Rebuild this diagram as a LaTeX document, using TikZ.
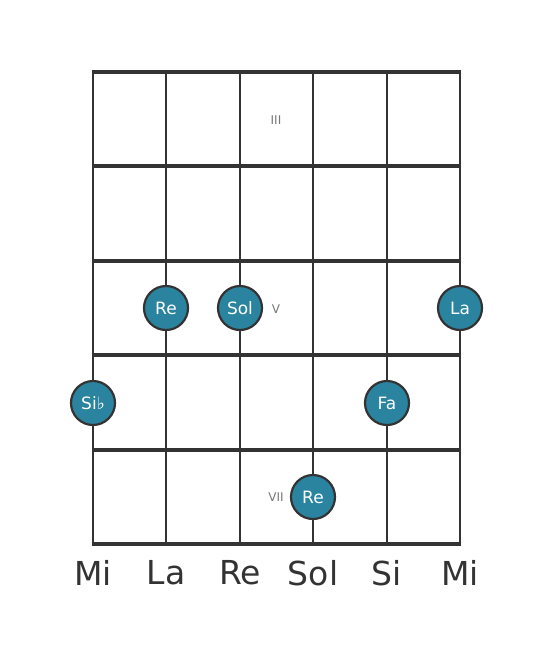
\documentclass[tikz,border=0pt]{standalone}
\usepackage{fontspec}
\setmainfont{DejaVu Sans}
\definecolor{linec}{HTML}{333333}
\definecolor{dotc}{HTML}{2A84A0}
\definecolor{fretc}{HTML}{777777}
\begin{document}
\begin{tikzpicture}[x=1pt,y=-1pt,
  fretline/.style={draw=linec,line width=4.5pt},
  stringline/.style={draw=linec,line width=2.6pt},
  notedot/.style={circle,fill=dotc,draw=linec,line width=2.2pt,minimum size=44pt,inner sep=0pt,text=white,font=\fontsize{17}{19}\selectfont},
  fretlabel/.style={text=fretc,font=\fontsize{12}{13}\selectfont},
  stringlabel/.style={text=linec,font=\fontsize{33}{36}\selectfont}]
\useasboundingbox (0,0) rectangle (553,656);
% strings
\foreach \i/\x in {1/93,2/166,3/240,4/313,5/387,6/460}{
  \coordinate (t\i) at (\x,72);
  \coordinate (b\i) at (\x,544);
  \draw[stringline] (t\i) -- (b\i);
}
% frets
\foreach \j/\y in {0/72,1/166,2/261,3/355,4/450,5/544}{
  \coordinate (l\j) at (91.7,\y);
  \coordinate (r\j) at (461.3,\y);
  \draw[fretline] (l\j) -- (r\j);
}
% fret labels
\node[fretlabel] (f3) at (276,120) {III};
\node[fretlabel] (f5) at (276,309) {V};
\node[fretlabel] (f7) at (276,497) {VII};
% notes
\node[notedot] (n1) at (166,308) {Re};
\node[notedot] (n2) at (240,308) {Sol};
\node[notedot] (n3) at (460,308) {La};
\node[notedot] (n4) at (93,403) {Si♭};
\node[notedot] (n5) at (387,403) {Fa};
\node[notedot] (n6) at (313,497) {Re};
% string names
\node[stringlabel] (s1) at (93,573) {Mi};
\node[stringlabel] (s2) at (166,573) {La};
\node[stringlabel] (s3) at (240,573) {Re};
\node[stringlabel] (s4) at (313,573) {Sol};
\node[stringlabel] (s5) at (387,573) {Si};
\node[stringlabel] (s6) at (460,573) {Mi};
\end{tikzpicture}
\end{document}
